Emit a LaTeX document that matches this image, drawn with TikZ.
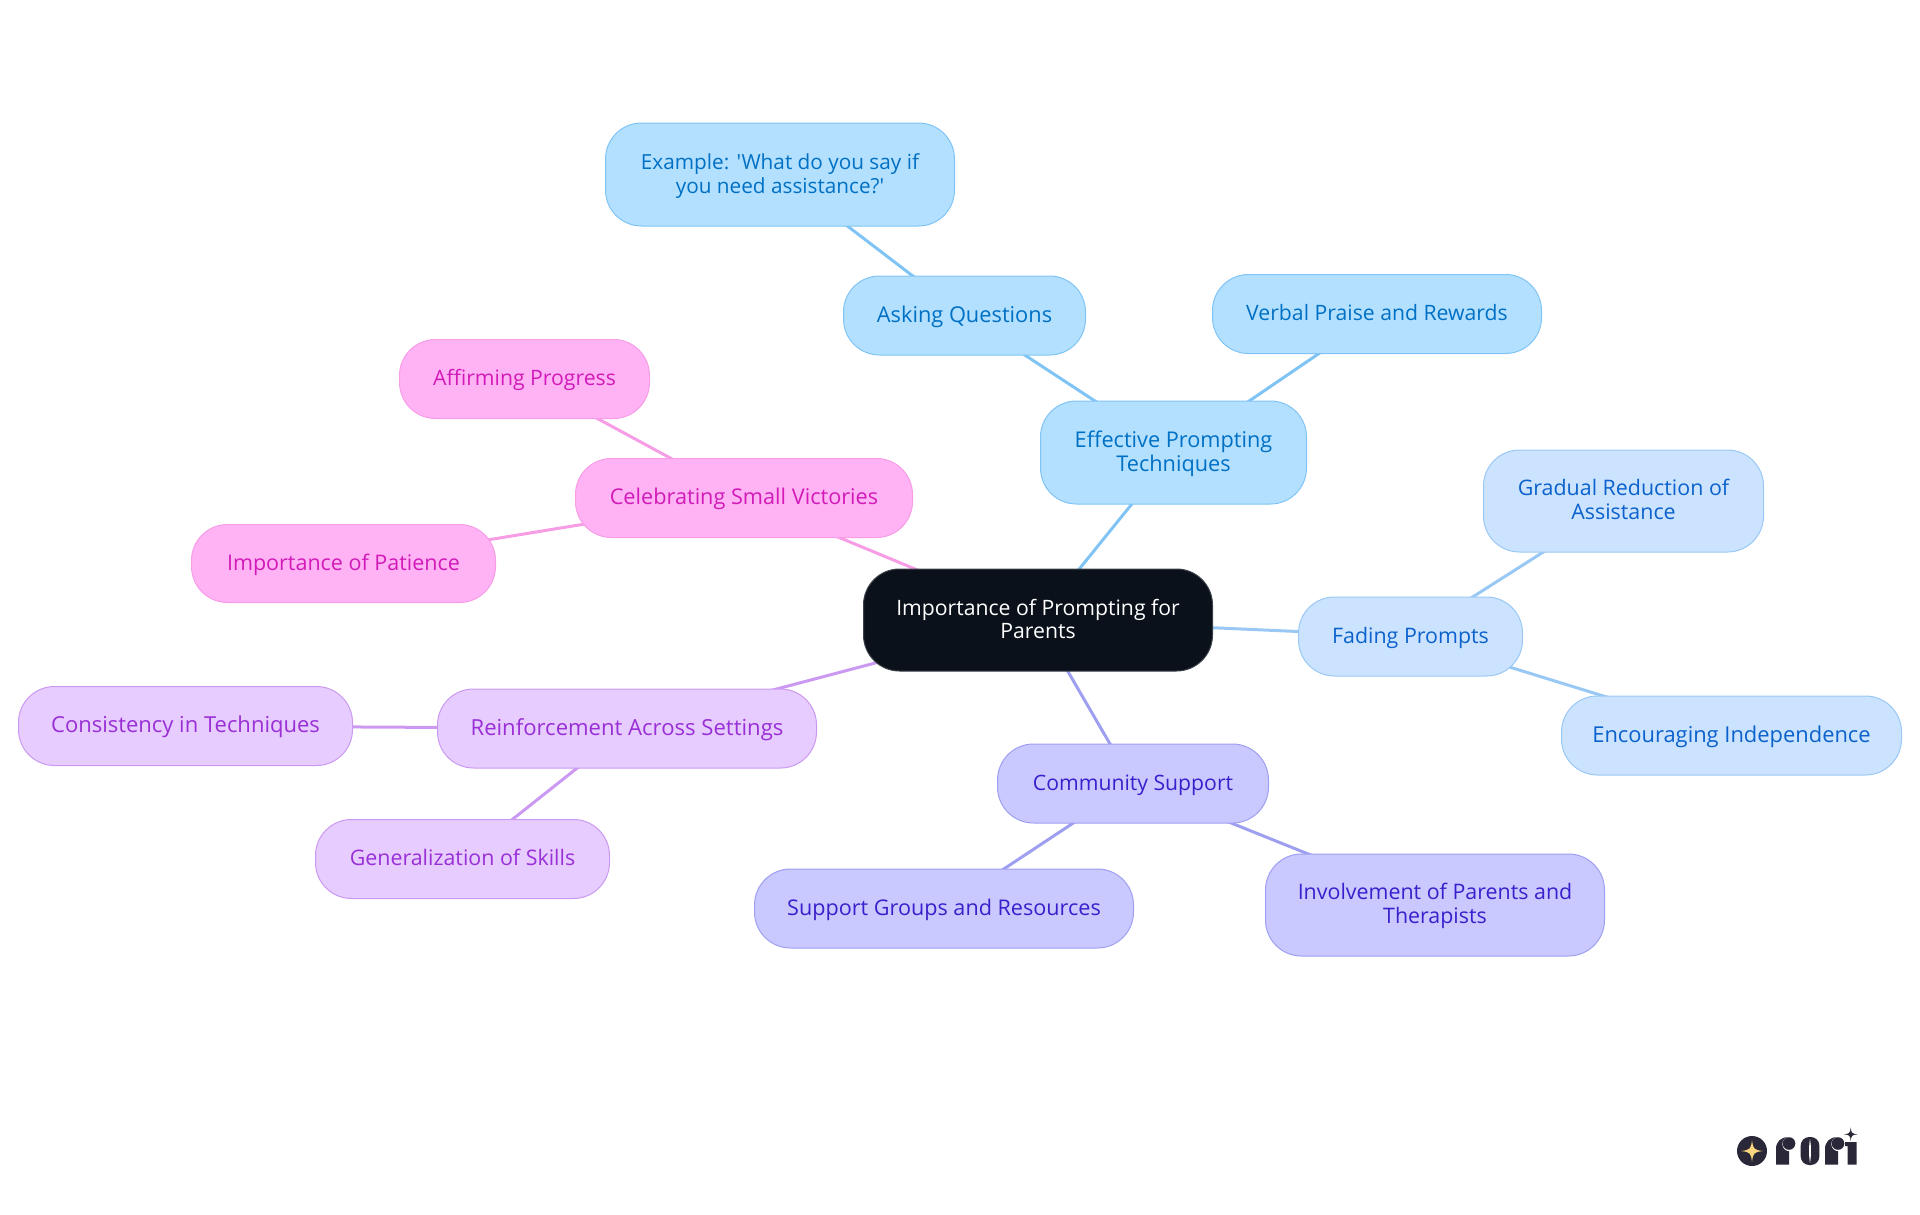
\documentclass[tikz,border=0pt]{standalone}
\usepackage{fontspec}
\newfontfamily\mmfont{Open Sans}
\usetikzlibrary{backgrounds}
\definecolor{bluef}{HTML}{B3E0FF}\definecolor{blues}{HTML}{80C4F5}\definecolor{bluet}{HTML}{0070C4}
\definecolor{skyf}{HTML}{CCE3FF}\definecolor{skys}{HTML}{99C8F5}\definecolor{skyt}{HTML}{0B62CC}
\definecolor{indf}{HTML}{C9C9FF}\definecolor{inds}{HTML}{9F9FF2}\definecolor{indt}{HTML}{3A1FCC}
\definecolor{purf}{HTML}{E6CCFF}\definecolor{purs}{HTML}{CC99F2}\definecolor{purt}{HTML}{9A2FD6}
\definecolor{pinf}{HTML}{FFB3F5}\definecolor{pins}{HTML}{F79DE6}\definecolor{pint}{HTML}{D11AB8}
\definecolor{rootf}{HTML}{0A111A}\definecolor{logoc}{HTML}{292738}\definecolor{stary}{HTML}{FBD67E}
\tikzset{
 mm/.style={draw,line width=1pt,rounded corners=36pt,align=center,inner sep=0pt,anchor=center},
 fs/.style={font=\mmfont\fontsize{#1}{23.6}\selectfont},
 one/.style={text height=16pt,text depth=3pt},
 two/.style={text height=#1pt,text depth=5pt},
 nblue/.style={mm,fill=bluef,draw=blues,text=bluet},
 nsky/.style={mm,fill=skyf,draw=skys,text=skyt},
 nind/.style={mm,fill=indf,draw=inds,text=indt},
 npur/.style={mm,fill=purf,draw=purs,text=purt},
 npin/.style={mm,fill=pinf,draw=pins,text=pint},
 nroot/.style={mm,fill=rootf,draw=rootf!80!white,text=white},
 edge/.style={line width=3pt},
 size/.style 2 args={minimum width=#1pt,minimum height=#2pt},
}
\begin{document}
\begin{tikzpicture}[x=1pt,y=-1pt]
\useasboundingbox (0,0) rectangle (1920,1215);
\node[nroot,fs=21.2,two=42.5,size={349}{102}] (root) at (1038,620) {Importance of Prompting for\\Parents};
\node[nblue,fs=21.7,two=42,size={266}{103}] (eff) at (1173.5,452.5) {Effective Prompting\\Techniques};
\node[nblue,fs=21.8,one,size={242}{79}] (ask) at (964.5,315.5) {Asking Questions};
\node[nblue,fs=20.75,two=42,size={349}{103}] (ex) at (780,174.5) {Example: 'What do you say if\\you need assistance?'};
\node[nblue,fs=21.2,one,size={329}{79}] (verb) at (1377,314) {Verbal Praise and Rewards};
\node[nsky,fs=21.4,one,size={224}{79}] (fad) at (1410.5,636.5) {Fading Prompts};
\node[nsky,fs=21.4,two=41.5,size={280}{102}] (grad) at (1623.5,501) {Gradual Reduction of\\Assistance};
\node[nsky,fs=21.9,one,size={340}{79}] (enc) at (1731.5,735.5) {Encouraging Independence};
\node[nind,fs=21.2,one,size={271}{79}] (com) at (1133,783.5) {Community Support};
\node[nind,fs=21.6,one,size={379}{79}] (sup) at (944,908.5) {Support Groups and Resources};
\node[nind,fs=21.4,two=42,size={339}{102}] (inv) at (1435,905) {Involvement of Parents and\\Therapists};
\node[npur,fs=22.1,one,size={379}{79}] (rei) at (627,728.5) {Reinforcement Across Settings};
\node[npur,fs=22,one,size={334}{79}] (con) at (185.5,726) {Consistency in Techniques};
\node[npur,fs=21.4,one,size={294}{79}] (gen) at (462.5,859) {Generalization of Skills};
\node[npin,fs=21.7,one,size={337}{79}] (cel) at (744,498) {Celebrating Small Victories};
\node[npin,fs=21.2,one,size={250}{79}] (aff) at (524.5,379) {Affirming Progress};
\node[npin,fs=21.5,one,size={304}{78}] (pat) at (343.5,563.5) {Importance of Patience};
\begin{scope}[on background layer]
\draw[edge,blues] (root.center)--(eff.center) (eff.center)--(ask.center) (ask.center)--(ex.center) (eff.center)--(verb.center);
\draw[edge,skys] (root.center)--(fad.center) (fad.center)--(grad.center) (fad.center)--(enc.center);
\draw[edge,inds] (root.center)--(com.center) (com.center)--(sup.center) (com.center)--(inv.center);
\draw[edge,purs] (root.center)--(rei.center) (rei.center)--(con.center) (rei.center)--(gen.center);
\draw[edge,pins] (root.center)--(cel.center) (cel.center)--(aff.center) (cel.center)--(pat.center);
\end{scope}
% logo
\fill[logoc] (1752,1151) circle (15);
\fill[stary] (1752,1140) .. controls (1753,1149) and (1754,1150) .. (1763,1151) .. controls (1754,1152) and (1753,1153) .. (1752,1162) .. controls (1751,1153) and (1750,1152) .. (1741,1151) .. controls (1750,1150) and (1751,1149) .. (1752,1140) -- cycle;
\foreach \dx in {0,49}{
 \fill[logoc,xshift=\dx pt] (1776,1164.5)--(1776,1149) .. controls (1776,1141.5) and (1781,1137) .. (1789,1137) -- (1789,1164.5) -- cycle;
 \fill[white,xshift=\dx pt] (1789.5,1144) circle (7.2);
 \fill[logoc,xshift=\dx pt] (1789,1143.5) circle (6.3);
}
\fill[logoc,rounded corners=8.5pt] (1800.7,1137) rectangle (1819.3,1165);
\fill[white] (1810,1139) .. controls (1811.3,1147) and (1811.3,1155) .. (1810,1163) .. controls (1808.7,1155) and (1808.7,1147) .. (1810,1139) -- cycle;
\fill[logoc] (1845,1142)--(1856.7,1142)--(1856.7,1164.5)--(1847.5,1164.5)--(1847.5,1146)--(1845,1146)--cycle;
\fill[white] (1850.7,1134.3) circle (7.5);
\fill[logoc] (1850.7,1127.5) .. controls (1851.2,1133) and (1852,1133.8) .. (1857.5,1134.3) .. controls (1852,1134.8) and (1851.2,1135.6) .. (1850.7,1141) .. controls (1850.2,1135.6) and (1849.4,1134.8) .. (1844,1134.3) .. controls (1849.4,1133.8) and (1850.2,1133) .. (1850.7,1127.5) -- cycle;
\end{tikzpicture}
\end{document}
